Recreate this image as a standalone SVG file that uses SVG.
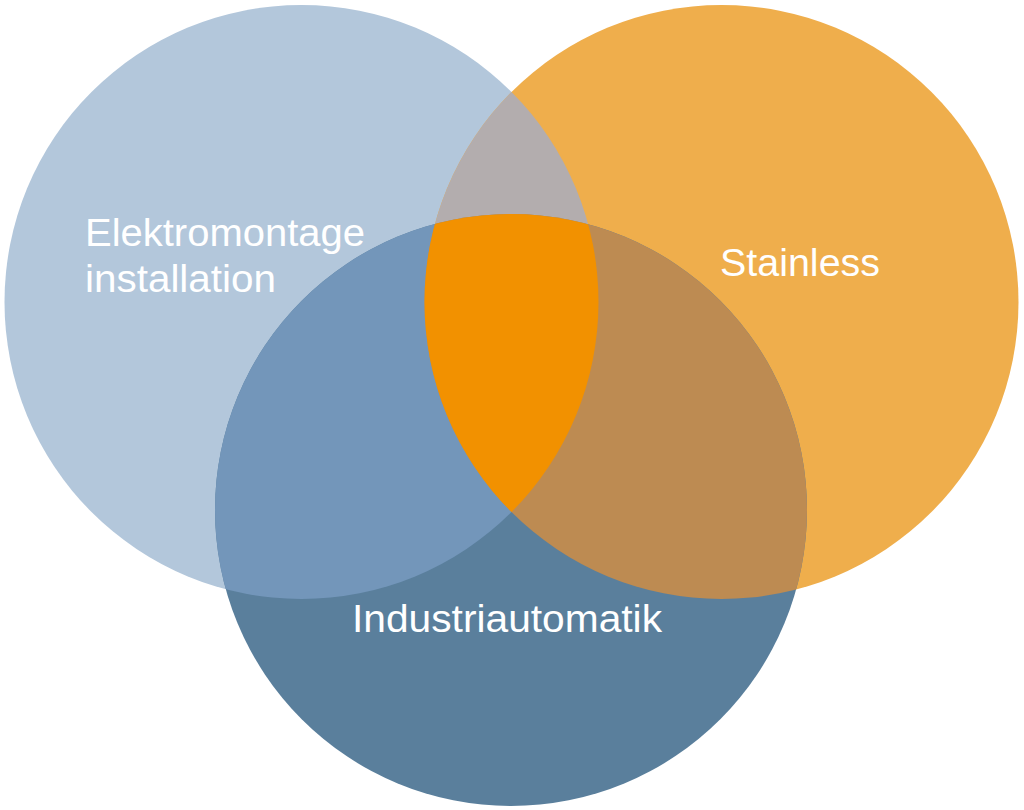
<svg xmlns="http://www.w3.org/2000/svg" width="1024" height="810" viewBox="0 0 1024 810">
<style>
.lbl{font-family:"Liberation Sans",Arial,sans-serif;font-size:38px;fill:#ffffff}
</style>
<defs>
<clipPath id="cL"><circle cx="301.5" cy="302" r="297"/></clipPath>
<clipPath id="cR"><circle cx="721.5" cy="302" r="297"/></clipPath>
<clipPath id="cB"><circle cx="511" cy="510" r="296"/></clipPath>
</defs>
<rect width="1024" height="810" fill="#ffffff"/>
<g id="elektromontage">
<circle cx="301.5" cy="302" r="297" fill="#B3C7DB"/>
</g>
<g id="stainless">
<circle cx="721.5" cy="302" r="297" fill="#EFAE4C"/>
</g>
<g id="industriautomatik">
<circle cx="511" cy="510" r="296" fill="#5A7F9C"/>
</g>
<g id="overlaps">
<circle cx="721.5" cy="302" r="297" fill="#B3ADAE" clip-path="url(#cL)"/>
<circle cx="511" cy="510" r="296" fill="#7396BA" clip-path="url(#cL)"/>
<circle cx="511" cy="510" r="296" fill="#BD8B52" clip-path="url(#cR)"/>
<g clip-path="url(#cR)"><circle cx="511" cy="510" r="296" fill="#F29100" clip-path="url(#cL)"/></g>
</g>
<g id="labels">
<text class="lbl" x="85" y="246" textLength="280" lengthAdjust="spacingAndGlyphs">Elektromontage</text>
<text class="lbl" x="85" y="292" textLength="191" lengthAdjust="spacingAndGlyphs">installation</text>
<text class="lbl" x="720" y="276" textLength="160" lengthAdjust="spacingAndGlyphs">Stainless</text>
<text class="lbl" x="352" y="632" textLength="310" lengthAdjust="spacingAndGlyphs">Industriautomatik</text>
</g>
</svg>
